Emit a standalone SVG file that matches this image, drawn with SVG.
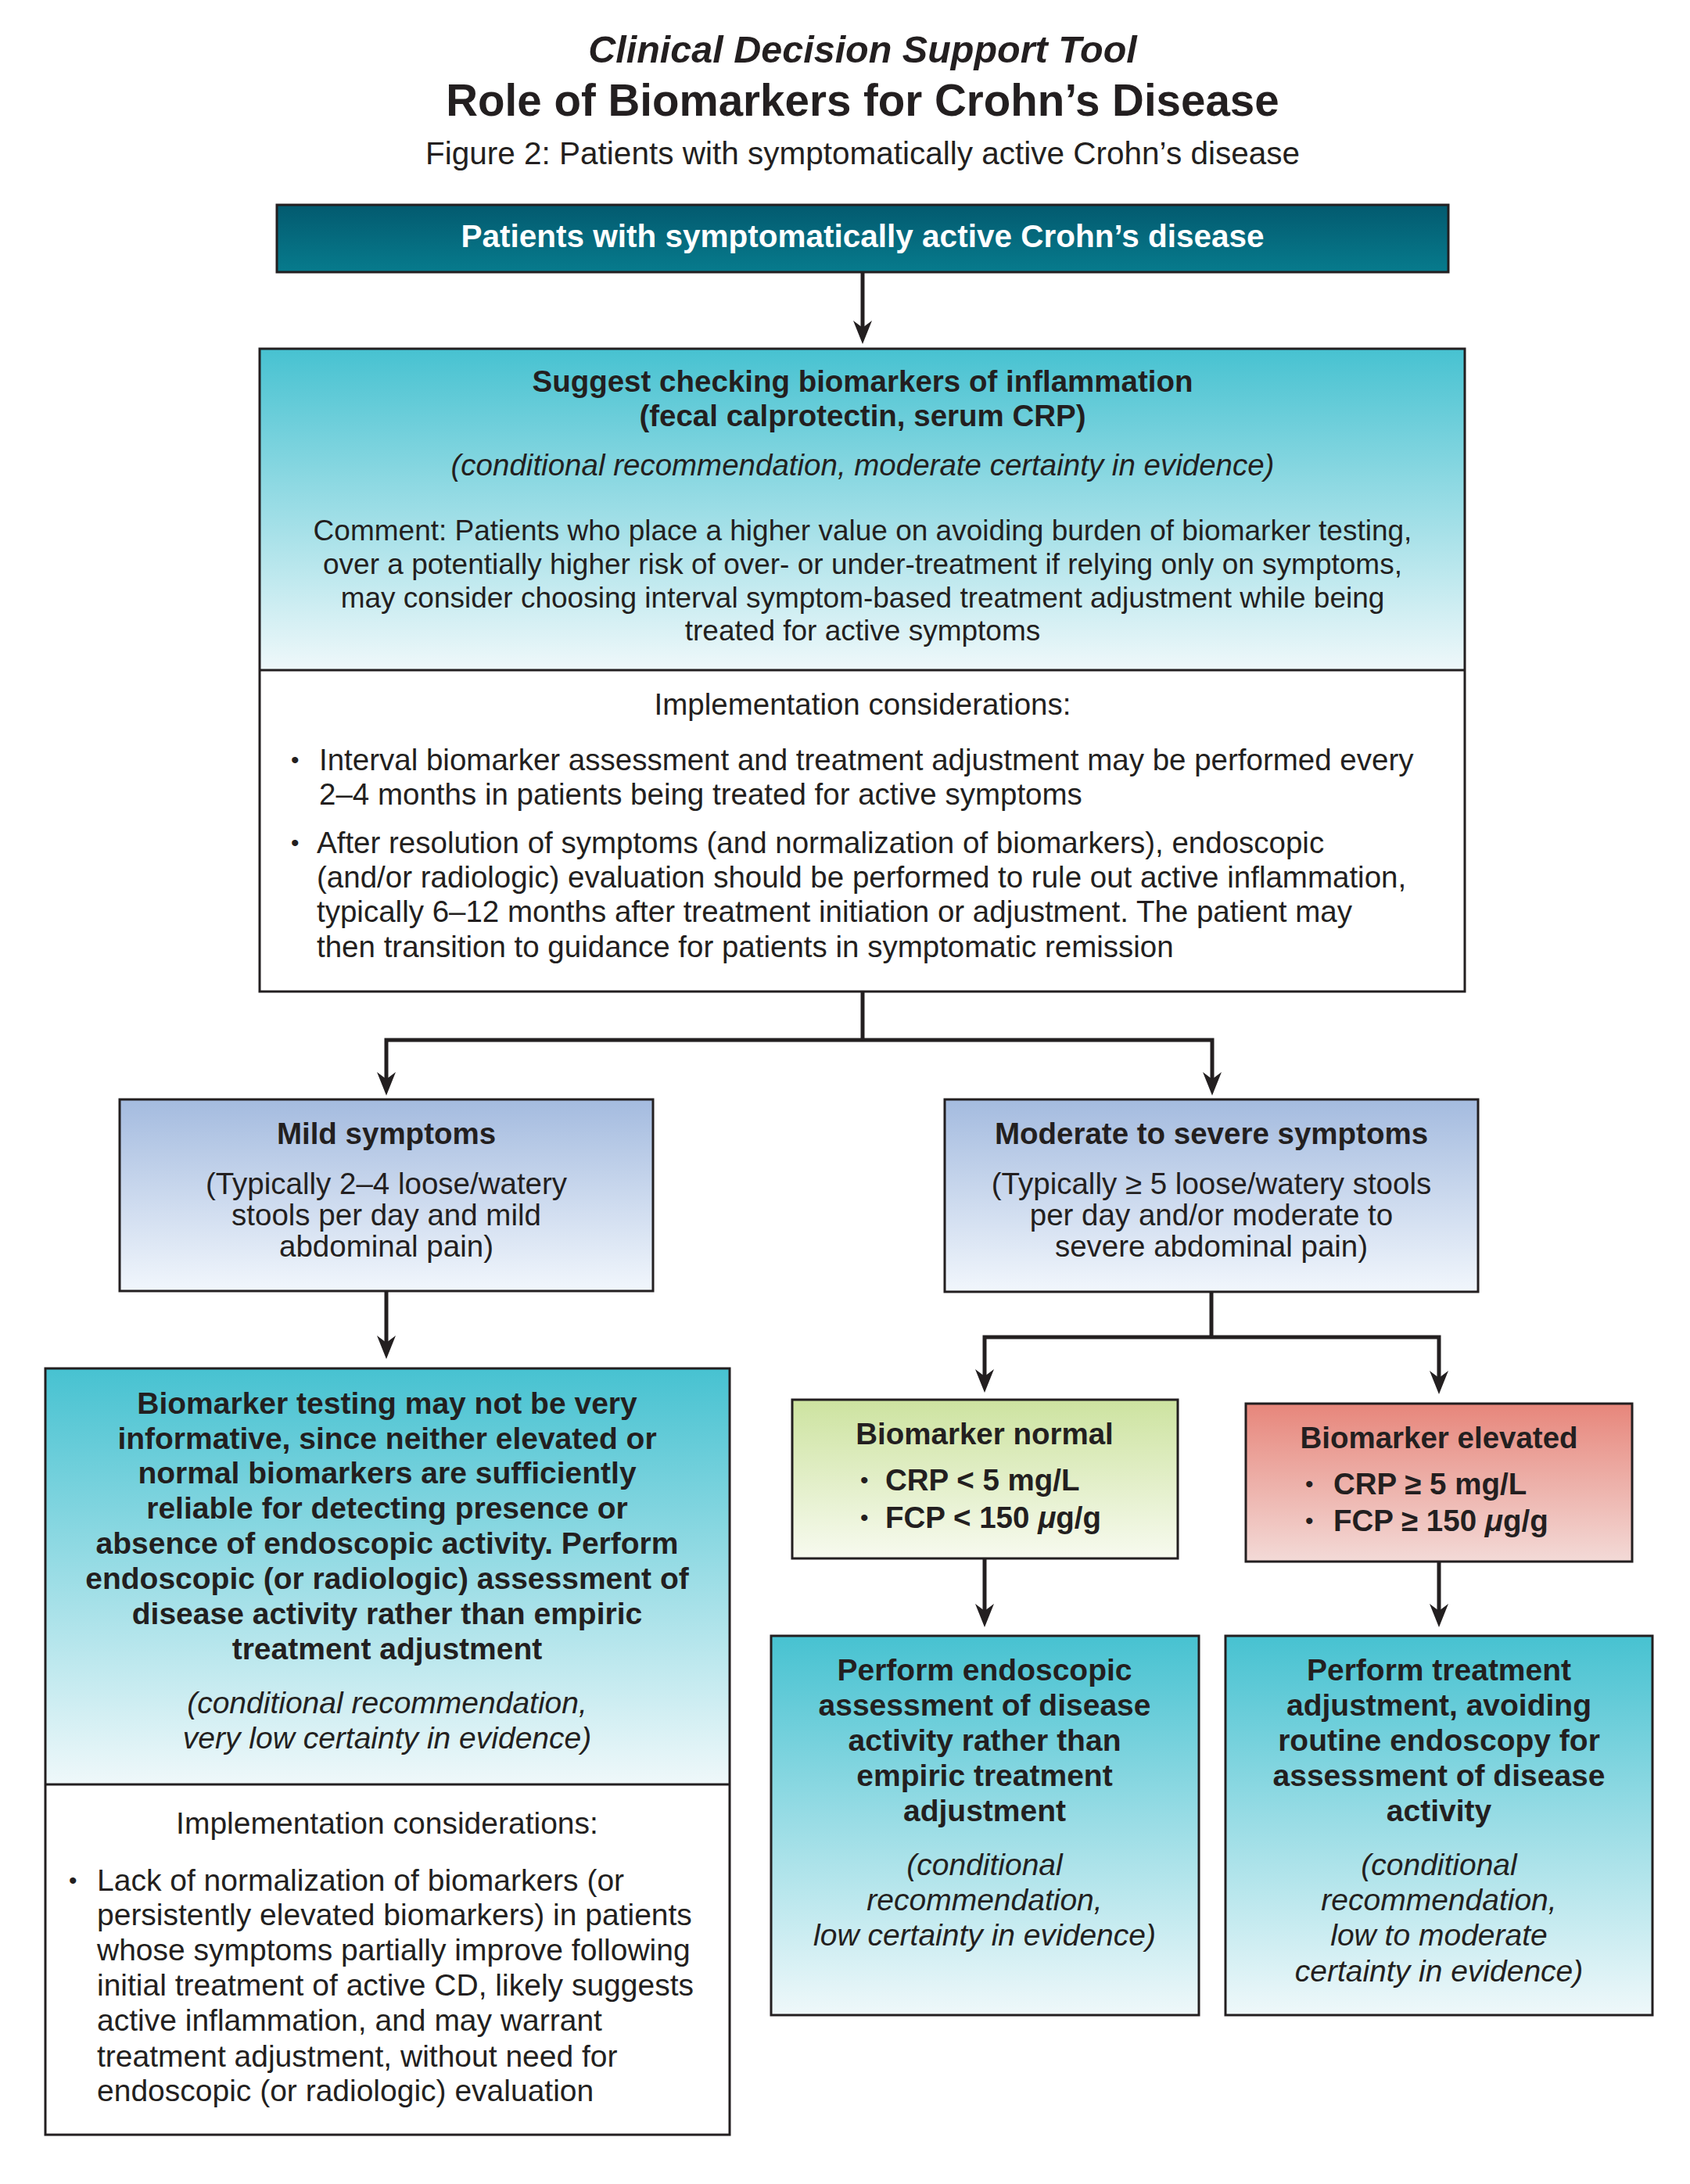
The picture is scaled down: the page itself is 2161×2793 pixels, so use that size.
<svg xmlns="http://www.w3.org/2000/svg" width="2161" height="2793" viewBox="0 0 2161 2793">
<defs>
<style>
text{font-family:"Liberation Sans",Arial,Helvetica,sans-serif;fill:#231f20}
.b{font-weight:bold}
.i{font-style:italic}
.c{text-anchor:middle}
.f38{font-size:38.5px}
.f39{font-size:39px}
.f37{font-size:37px}
.bul{font-size:30px}
.box{stroke:#231f20;stroke-width:3;fill:none}
.conn{stroke:#231f20;stroke-width:5;fill:none;stroke-linejoin:miter}
</style>
<linearGradient id="gTeal" x1="0" y1="0" x2="0" y2="1"><stop offset="0" stop-color="#035a6f"/><stop offset="1" stop-color="#077b8d"/></linearGradient>
<linearGradient id="gCyan" x1="0" y1="0" x2="0" y2="1"><stop offset="0" stop-color="#47c2d1"/><stop offset="1" stop-color="#eff8fa"/></linearGradient>
<linearGradient id="gBlue" x1="0" y1="0" x2="0" y2="1"><stop offset="0" stop-color="#a4bbdf"/><stop offset="1" stop-color="#f1f6fc"/></linearGradient>
<linearGradient id="gGreen" x1="0" y1="0" x2="0" y2="1"><stop offset="0" stop-color="#cde3a0"/><stop offset="1" stop-color="#f7faef"/></linearGradient>
<linearGradient id="gRed" x1="0" y1="0" x2="0" y2="1"><stop offset="0" stop-color="#e7867b"/><stop offset="1" stop-color="#f3dad7"/></linearGradient>
<marker id="ah" viewBox="0 0 30 24" refX="15" refY="12" markerWidth="30" markerHeight="24" markerUnits="userSpaceOnUse" orient="auto">
<path d="M0,0 L30,12 L0,24 L9,12 Z" fill="#231f20"/>
</marker>
</defs>
<rect x="0" y="0" width="2161" height="2793" fill="#ffffff"/>

<g id="titles">
<text class="b i c" x="1103" y="80" style="font-size:48.5px">Clinical Decision Support Tool</text>
<text class="b c" x="1103" y="148" style="font-size:56.5px">Role of Biomarkers for Crohn’s Disease</text>
<text class="c" x="1103" y="210" style="font-size:40.5px">Figure 2: Patients with symptomatically active Crohn’s disease</text>
</g>

<g id="connectors">
<path class="conn" d="M1103,348 V425" marker-end="url(#ah)"/>
<path class="conn" d="M1103,1268 V1330"/>
<path class="conn" d="M1103,1330 H494 V1386" marker-end="url(#ah)"/>
<path class="conn" d="M1103,1330 H1550 V1386" marker-end="url(#ah)"/>
<path class="conn" d="M494,1651 V1723" marker-end="url(#ah)"/>
<path class="conn" d="M1549,1652 V1710"/>
<path class="conn" d="M1549,1710 H1259 V1766" marker-end="url(#ah)"/>
<path class="conn" d="M1549,1710 H1840 V1768" marker-end="url(#ah)"/>
<path class="conn" d="M1259,1993 V2066" marker-end="url(#ah)"/>
<path class="conn" d="M1840,1997 V2066" marker-end="url(#ah)"/>
</g>

<g id="start">
<rect x="354" y="262" width="1498" height="86" fill="url(#gTeal)"/>
<rect class="box" x="354" y="262" width="1498" height="86"/>
<text class="b c" x="1103" y="316" style="font-size:40.5px;fill:#ffffff">Patients with symptomatically active Crohn’s disease</text>
</g>

<g id="suggest">
<rect x="332" y="446" width="1541" height="411" fill="url(#gCyan)"/>
<rect x="332" y="857" width="1541" height="411" fill="#ffffff"/>
<rect class="box" x="332" y="446" width="1541" height="822"/>
<line class="box" x1="332" y1="857" x2="1873" y2="857"/>
<text class="b c f38" x="1103" y="501">Suggest checking biomarkers of inflammation</text>
<text class="b c f38" x="1103" y="545">(fecal calprotectin, serum CRP)</text>
<text class="i c f38" x="1103" y="608">(conditional recommendation, moderate certainty in evidence)</text>
<text class="c f37" x="1103" y="691">Comment: Patients who place a higher value on avoiding burden of biomarker testing,</text>
<text class="c f37" x="1103" y="734">over a potentially higher risk of over- or under-treatment if relying only on symptoms,</text>
<text class="c f37" x="1103" y="777">may consider choosing interval symptom-based treatment adjustment while being</text>
<text class="c f37" x="1103" y="819">treated for active symptoms</text>
<text class="c f38" x="1103" y="914">Implementation considerations:</text>
<text class="bul" x="372" y="982">•</text>
<text class="f38" x="408" y="985">Interval biomarker assessment and treatment adjustment may be performed every</text>
<text class="f38" x="408" y="1029">2–4 months in patients being treated for active symptoms</text>
<text class="bul" x="372" y="1088">•</text>
<text class="f38" x="405" y="1091">After resolution of symptoms (and normalization of biomarkers), endoscopic</text>
<text class="f38" x="405" y="1135">(and/or radiologic) evaluation should be performed to rule out active inflammation,</text>
<text class="f38" x="405" y="1179">typically 6–12 months after treatment initiation or adjustment. The patient may</text>
<text class="f38" x="405" y="1224">then transition to guidance for patients in symptomatic remission</text>
</g>

<g id="mild">
<rect x="153" y="1406" width="682" height="245" fill="url(#gBlue)"/>
<rect class="box" x="153" y="1406" width="682" height="245"/>
<text class="b c f38" x="494" y="1463">Mild symptoms</text>
<text class="c f38" x="494" y="1527">(Typically 2–4 loose/watery</text>
<text class="c f38" x="494" y="1567">stools per day and mild</text>
<text class="c f38" x="494" y="1607">abdominal pain)</text>
</g>

<g id="moderate">
<rect x="1208" y="1406" width="682" height="246" fill="url(#gBlue)"/>
<rect class="box" x="1208" y="1406" width="682" height="246"/>
<text class="b c f38" x="1549" y="1463">Moderate to severe symptoms</text>
<text class="c f38" x="1549" y="1527">(Typically ≥ 5 loose/watery stools</text>
<text class="c f38" x="1549" y="1567">per day and/or moderate to</text>
<text class="c f38" x="1549" y="1607">severe abdominal pain)</text>
</g>

<g id="mild-result">
<rect x="58" y="1750" width="875" height="532" fill="url(#gCyan)"/>
<rect x="58" y="2282" width="875" height="448" fill="#ffffff"/>
<rect class="box" x="58" y="1750" width="875" height="980"/>
<line class="box" x1="58" y1="2282" x2="933" y2="2282"/>
<text class="b c f39" x="495" y="1808">Biomarker testing may not be very</text>
<text class="b c f39" x="495" y="1853">informative, since neither elevated or</text>
<text class="b c f39" x="495" y="1897">normal biomarkers are sufficiently</text>
<text class="b c f39" x="495" y="1942">reliable for detecting presence or</text>
<text class="b c f39" x="495" y="1987">absence of endoscopic activity. Perform</text>
<text class="b c f39" x="495" y="2032">endoscopic (or radiologic) assessment of</text>
<text class="b c f39" x="495" y="2077">disease activity rather than empiric</text>
<text class="b c f39" x="495" y="2122">treatment adjustment</text>
<text class="i c f39" x="495" y="2191">(conditional recommendation,</text>
<text class="i c f39" x="495" y="2236">very low certainty in evidence)</text>
<text class="c f39" x="495" y="2345">Implementation considerations:</text>
<text class="bul" x="88" y="2415">•</text>
<text class="f39" x="124" y="2418">Lack of normalization of biomarkers (or</text>
<text class="f39" x="124" y="2462">persistently elevated biomarkers) in patients</text>
<text class="f39" x="124" y="2507">whose symptoms partially improve following</text>
<text class="f39" x="124" y="2552">initial treatment of active CD, likely suggests</text>
<text class="f39" x="124" y="2597">active inflammation, and may warrant</text>
<text class="f39" x="124" y="2643">treatment adjustment, without need for</text>
<text class="f39" x="124" y="2687">endoscopic (or radiologic) evaluation</text>
</g>

<g id="normal">
<rect x="1013" y="1790" width="493" height="203" fill="url(#gGreen)"/>
<rect class="box" x="1013" y="1790" width="493" height="203"/>
<text class="b c f38" x="1259" y="1847">Biomarker normal</text>
<text class="bul" x="1100" y="1903">•</text>
<text class="b f38" x="1132" y="1906">CRP &lt; 5 mg/L</text>
<text class="bul" x="1100" y="1951">•</text>
<text class="b f38" x="1132" y="1954">FCP &lt; 150 <tspan class="i">μ</tspan>g/g</text>
</g>

<g id="elevated">
<rect x="1593" y="1795" width="494" height="202" fill="url(#gRed)"/>
<rect class="box" x="1593" y="1795" width="494" height="202"/>
<text class="b c f38" x="1840" y="1852">Biomarker elevated</text>
<text class="bul" x="1669" y="1908">•</text>
<text class="b f38" x="1705" y="1911">CRP ≥ 5 mg/L</text>
<text class="bul" x="1669" y="1955">•</text>
<text class="b f38" x="1705" y="1958">FCP ≥ 150 <tspan class="i">μ</tspan>g/g</text>
</g>

<g id="endoscopy">
<rect x="986" y="2092" width="547" height="485" fill="url(#gCyan)"/>
<rect class="box" x="986" y="2092" width="547" height="485"/>
<text class="b c f39" x="1259" y="2149">Perform endoscopic</text>
<text class="b c f39" x="1259" y="2194">assessment of disease</text>
<text class="b c f39" x="1259" y="2239">activity rather than</text>
<text class="b c f39" x="1259" y="2284">empiric treatment</text>
<text class="b c f39" x="1259" y="2329">adjustment</text>
<text class="i c f39" x="1259" y="2398">(conditional</text>
<text class="i c f39" x="1259" y="2443">recommendation,</text>
<text class="i c f39" x="1259" y="2488">low certainty in evidence)</text>
</g>

<g id="treatment">
<rect x="1567" y="2092" width="546" height="485" fill="url(#gCyan)"/>
<rect class="box" x="1567" y="2092" width="546" height="485"/>
<text class="b c f39" x="1840" y="2149">Perform treatment</text>
<text class="b c f39" x="1840" y="2194">adjustment, avoiding</text>
<text class="b c f39" x="1840" y="2239">routine endoscopy for</text>
<text class="b c f39" x="1840" y="2284">assessment of disease</text>
<text class="b c f39" x="1840" y="2329">activity</text>
<text class="i c f39" x="1840" y="2398">(conditional</text>
<text class="i c f39" x="1840" y="2443">recommendation,</text>
<text class="i c f39" x="1840" y="2488">low to moderate</text>
<text class="i c f39" x="1840" y="2534">certainty in evidence)</text>
</g>
</svg>
